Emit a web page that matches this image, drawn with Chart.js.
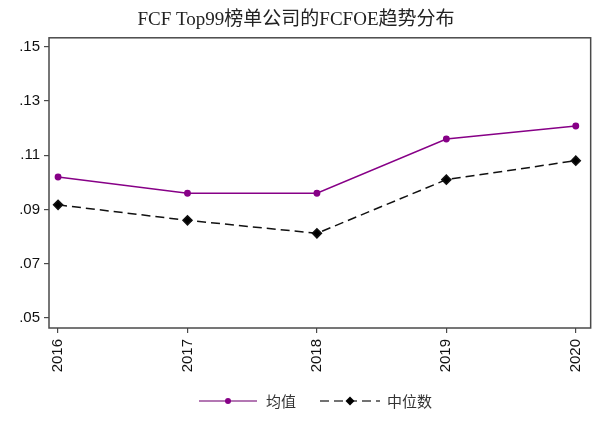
<!DOCTYPE html>
<html>
<head>
<meta charset="utf-8">
<script src="https://cdn.jsdelivr.net/npm/chart.js@4"></script>
<style>
  html, body { margin: 0; padding: 0; background: #fff; }
  #wrap { width: 600px; height: 421px; }
</style>
</head>
<body>
<div id="wrap"><canvas id="graph" width="600" height="421"></canvas></div>
<script>
// Data
const years = [2016, 2017, 2018, 2019, 2020];
const meanValues = [0.1020, 0.0960, 0.0960, 0.1160, 0.1208];
const medianValues = [0.0917, 0.0860, 0.0812, 0.1010, 0.1080];
const yTicks = [0.05, 0.07, 0.09, 0.11, 0.13, 0.15];
const seriesNames = ['均值', '中位数'];
const titleText = 'FCF Top99榜单公司的FCFOE趋势分布';

const purple = '#870087';
const frameColor = '#4a4a4a';
const tickFont = { family: "Arial, 'Liberation Sans'", size: 15 };

// Box round the plot area
const framePlugin = {
    id: 'frame',
    afterDatasetsDraw(chart) {
        const a = chart.chartArea;
        const c = chart.ctx;
        c.save();
        c.strokeStyle = frameColor;
        c.lineWidth = 1.5;
        c.strokeRect(a.left, a.top, a.right - a.left, a.bottom - a.top);
        c.restore();
    }
};

// Legend at the bottom: line with a marker in the middle, then the name
const legendPlugin = {
    id: 'stataLegend',
    afterDraw(chart) {
        const c = chart.ctx;
        const y = 401;
        const items = [
            { x0: 199, x1: 257, color: '#9a4a9a', dash: [], marker: 'circle', text: seriesNames[0], tx: 266 },
            { x0: 320, x1: 380, color: '#444', dash: [9, 5], marker: 'diamond', text: seriesNames[1], tx: 387 }
        ];
        c.save();
        items.forEach(it => {
            c.strokeStyle = it.color;
            c.lineWidth = 1.5;
            c.setLineDash(it.dash);
            c.beginPath();
            c.moveTo(it.x0, y);
            c.lineTo(it.x1, y);
            c.stroke();
            c.setLineDash([]);
            const mx = (it.x0 + it.x1) / 2;
            if (it.marker === 'circle') {
                c.fillStyle = purple;
                c.beginPath();
                c.arc(mx, y, 3, 0, Math.PI * 2);
                c.fill();
            } else {
                c.fillStyle = '#000';
                c.beginPath();
                c.moveTo(mx, y - 4.5);
                c.lineTo(mx + 4.5, y);
                c.lineTo(mx, y + 4.5);
                c.lineTo(mx - 4.5, y);
                c.closePath();
                c.fill();
            }
            c.fillStyle = '#333';
            c.font = "15px 'Noto Sans CJK SC'";
            c.textBaseline = 'middle';
            c.textAlign = 'left';
            c.fillText(it.text, it.tx, y);
        });
        c.restore();
    }
};

const ctx = document.getElementById('graph').getContext('2d');
new Chart(ctx, {
    type: 'line',
    data: {
        datasets: [
            {
                label: seriesNames[0],
                data: years.map((yr, i) => ({ x: yr, y: meanValues[i] })),
                borderColor: purple,
                backgroundColor: purple,
                borderWidth: 1.5,
                pointRadius: 2.7,
                pointStyle: 'circle',
                lineTension: 0,
                fill: false
            },
            {
                label: seriesNames[1],
                data: years.map((yr, i) => ({ x: yr, y: medianValues[i] })),
                borderColor: '#111',
                backgroundColor: '#000',
                borderWidth: 1.5,
                borderDash: [9, 5],
                pointRadius: 4.5,
                pointStyle: 'rectRot',
                lineTension: 0,
                fill: false
            }
        ]
    },
    options: {
        responsive: false,
        animation: false,
        events: [],
        layout: { padding: { left: 0, right: 8, top: 0, bottom: 31 } },
        plugins: {
            legend: { display: false },
            tooltip: { enabled: false },
            title: {
                display: true,
                text: titleText,
                color: '#222',
                font: { family: "'Liberation Serif', 'Noto Sans CJK SC'", size: 19, weight: 'normal', lineHeight: 1.2 },
                padding: { top: 9, bottom: 6 }
            }
        },
        scales: {
            x: {
                type: 'linear',
                min: 2015.93,
                max: 2020.115,
                afterBuildTicks: scale => { scale.ticks = years.map(v => ({ value: v })); },
                afterFit: scale => { scale.height = 62; },
                border: { display: false },
                grid: { display: true, drawOnChartArea: false, drawTicks: true, tickLength: 5, color: frameColor, lineWidth: 1.2 },
                ticks: {
                    autoSkip: false,
                    minRotation: 90,
                    maxRotation: 90,
                    padding: 6,
                    color: '#111',
                    font: tickFont,
                    callback: v => String(v)
                }
            },
            y: {
                min: 0.0463,
                max: 0.1533,
                afterBuildTicks: scale => { scale.ticks = yTicks.map(v => ({ value: v })); },
                afterFit: scale => { scale.width = 49; },
                border: { display: false },
                grid: { display: true, drawOnChartArea: false, drawTicks: true, tickLength: 5, color: frameColor, lineWidth: 1.2 },
                ticks: {
                    padding: 4,
                    color: '#111',
                    font: tickFont,
                    callback: v => v.toFixed(2).replace(/^0/, '')
                }
            }
        }
    },
    plugins: [framePlugin, legendPlugin]
});
</script>
</body>
</html>
